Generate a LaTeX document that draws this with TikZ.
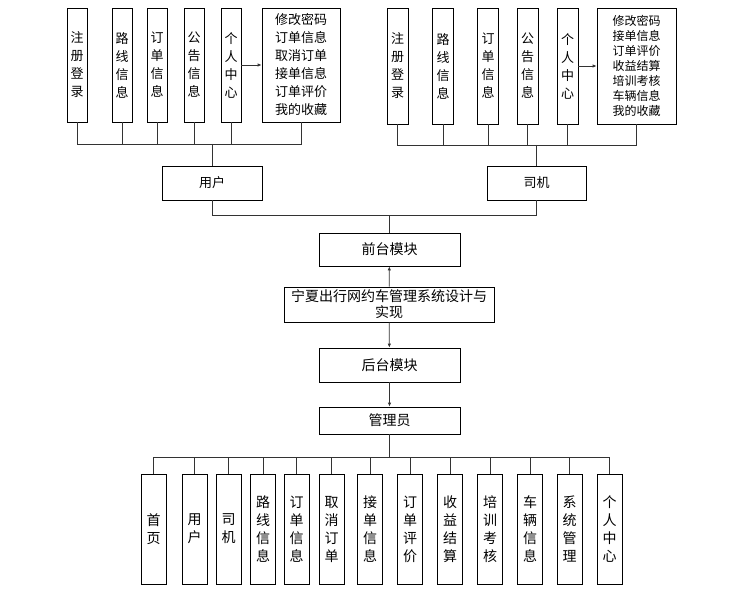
\documentclass[tikz,border=0pt]{standalone}
\usepackage{fontspec}
\setmainfont{Noto Sans CJK SC}
\usepackage{tikz}
\usetikzlibrary{positioning, arrows.meta}
\tikzset{
  every node/.style={font=\fontsize{13}{18}\selectfont},
  conn/.style={draw=black!80, line width=0.8pt},
  arr/.style={conn, -{Latex[length=4pt, width=3.5pt]}},
  box/.style={draw, line width=0.8pt, inner sep=0pt, align=center},
  vbox/.style={box, minimum width=21pt, minimum height=115pt},
  infoUser/.style={box, minimum width=78pt, minimum height=114pt},
  infoDriver/.style={box, minimum width=79pt, minimum height=116pt,
                     font=\fontsize{12}{15}\selectfont},
  role/.style={box, minimum width=100pt, minimum height=34pt},
  module/.style={box, minimum width=141pt, minimum height=34pt,
                 font=\fontsize{14}{16}\selectfont},
  adminbox/.style={box, minimum width=25pt, minimum height=110pt,
                   font=\fontsize{14}{18}\selectfont},
}

\begin{document}
\begin{tikzpicture}[x=1pt, y=-1pt]
  \useasboundingbox (0,0) rectangle (743,596);
  % user side
  \foreach \x/\t [count=\i] in {77/{注\\册\\登\\录}, 122/{路\\线\\信\\息},
      157/{订\\单\\信\\息}, 194/{公\\告\\信\\息}, 231/{个\\人\\中\\心}} {
    \node[vbox, minimum width=20pt, minimum height=114pt] (u\i) at (\x,65) {\t};
  }
  \node[infoUser] (uinfo) at (301,65)
    {修改密码\\订单信息\\取消订单\\接单信息\\订单评价\\我的收藏};
  \draw[arr] (u5) -- (uinfo);
  \node[role] (user) at (212,183) {用户};
  \coordinate (ubus) at (212,144);
  \foreach \i in {1,...,5} \draw[conn] (u\i.south) |- (ubus);
  \draw[conn] (uinfo.south) |- (ubus);
  \draw[conn] (ubus) -- (user.north);
  % driver side
  \foreach \x/\t [count=\i] in {397.5/{注\\册\\登\\录}, 443/{路\\线\\信\\息},
      488/{订\\单\\信\\息}, 527.5/{公\\告\\信\\息}, 567.5/{个\\人\\中\\心}} {
    \node[vbox, minimum height=116pt] (d\i) at (\x,66) {\t};
  }
  \node[infoDriver] (dinfo) at (636.5,66)
    {修改密码\\接单信息\\订单评价\\收益结算\\培训考核\\车辆信息\\我的收藏};
  \draw[arr] (d5) -- (dinfo);
  \node[role, minimum width=99pt] (driver) at (536.5,183) {司机};
  \coordinate (dbus) at (536.5,145);
  \foreach \i in {1,...,5} \draw[conn] (d\i.south) |- (dbus);
  \draw[conn] (dinfo.south) |- (dbus);
  \draw[conn] (dbus) -- (driver.north);
  % middle column
  \node[module, minimum height=33pt] (front) at (389.5,249.5) {前台模块};
  \node[module, minimum width=210pt, minimum height=35pt] (title) at (389,304.5)
    {宁夏出行网约车管理系统设计与\\实现};
  \node[module] (back) at (389.5,365) {后台模块};
  \node[module, minimum height=27pt] (admin) at (389.5,420.5) {管理员};
  \coordinate (join) at (389.5,215);
  \draw[conn] (user.south) |- (join);
  \draw[conn] (driver.south) |- (join);
  \draw[conn] (join) -- (front.north);
  \draw[arr] (title) -- (front);
  \draw[arr] (title) -- (back);
  \draw[arr] (back) -- (admin);
  % admin functions
  \coordinate (abus) at (389.5,457);
  \draw[conn] (admin.south) -- (abus);
  \foreach \x/\t [count=\i] in {153.5/{首\\页}, 194.5/{用\\户}, 228.5/{司\\机},
      263/{路\\线\\信\\息}, 296.5/{订\\单\\信\\息}, 331.5/{取\\消\\订\\单},
      370/{接\\单\\信\\息}, 410/{订\\单\\评\\价}, 450/{收\\益\\结\\算},
      490/{培\\训\\考\\核}, 530/{车\\辆\\信\\息}, 569.5/{系\\统\\管\\理},
      609.5/{个\\人\\中\\心}} {
    \node[adminbox] (a\i) at (\x,529) {\t};
    \draw[conn] (a\i.north) |- (abus);
  }
\end{tikzpicture}
\end{document}
